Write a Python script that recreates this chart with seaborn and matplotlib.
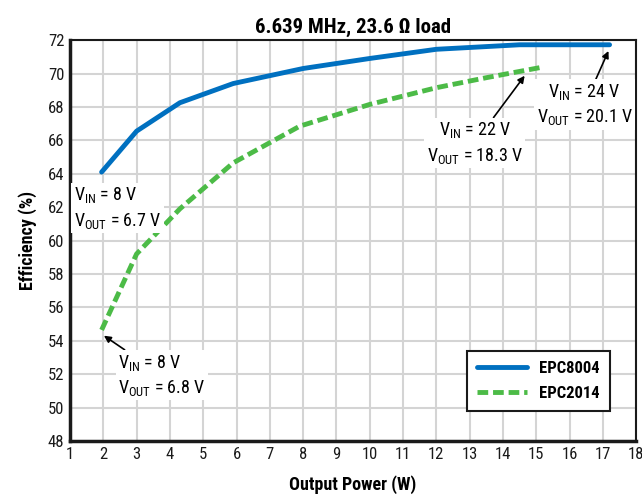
import matplotlib
matplotlib.use("Agg")
import matplotlib.pyplot as plt
import seaborn as sns
import pandas as pd

# Data
epc8004_power = [1.95, 3.0, 4.3, 5.9, 8.0, 10.0, 12.0, 14.5, 17.2]
epc8004_eff = [64.1, 66.55, 68.25, 69.4, 70.3, 70.9, 71.45, 71.72, 71.72]
epc2014_power = [1.95, 3.0, 4.3, 5.9, 7.9, 10.0, 12.0, 13.5, 15.1]
epc2014_eff = [54.65, 59.2, 61.9, 64.65, 66.85, 68.15, 69.15, 69.75, 70.35]
series_names = ["EPC8004", "EPC2014"]
x_ticks = list(range(1, 19))
y_ticks = list(range(48, 73, 2))

df = pd.concat([
    pd.DataFrame({"Power": epc8004_power, "Eff": epc8004_eff, "Device": series_names[0]}),
    pd.DataFrame({"Power": epc2014_power, "Eff": epc2014_eff, "Device": series_names[1]}),
])

sns.set_theme(style="whitegrid")
fam = "Roboto Condensed"
plt.rcParams["font.family"] = [fam, "DejaVu Sans"]
plt.rcParams["mathtext.fontset"] = "custom"
plt.rcParams["mathtext.rm"] = fam
plt.rcParams["mathtext.it"] = fam
plt.rcParams["text.color"] = "black"

fig = plt.figure(figsize=(6.42, 4.95), dpi=100)
ax = fig.add_axes([0.109, 0.109, 0.882, 0.810])

sns.lineplot(data=df, x="Power", y="Eff", hue="Device", style="Device",
             palette={"EPC8004": "#0070c0", "EPC2014": "#4cbb47"},
             dashes={"EPC8004": "", "EPC2014": (2.2, 1.0)},
             linewidth=3.5, ax=ax, sort=False)

ax.set_xlim(1, 18)
ax.set_ylim(48, 72)
ax.set_xticks(x_ticks)
ax.set_yticks(y_ticks)
ax.tick_params(axis="both", labelsize=12, length=0, pad=4, colors="#1a1a1a")
ax.grid(True, color="#d4d4d4", linewidth=1.5)
for s in ax.spines.values():
    s.set_color("#1a1a1a")
    s.set_linewidth(1.5)
ax.spines["left"].set_linewidth(2.5)
ax.spines["bottom"].set_linewidth(2.5)

ax.set_xlabel("Output Power (W)", fontsize=13, fontweight="bold", labelpad=10, color="black")
ax.set_ylabel("Efficiency (%)", fontsize=13, fontweight="bold", labelpad=8, color="black")
ax.set_title("6.639 MHz, 23.6 \u03a9 load", fontsize=15, fontweight="bold", pad=5, color="black")

bbox = dict(boxstyle="square,pad=0.15", fc="white", ec="none")
arrow = dict(arrowstyle="-|>", color="black", lw=1.2, mutation_scale=10, shrinkA=0, shrinkB=2)
afs = 13

ax.text(1.12, 63.3, "V$_{\\mathrm{IN}}$ = 8 V\nV$_{\\mathrm{OUT}}$ = 6.7 V", fontsize=afs,
        va="top", ha="left", linespacing=1.35, bbox=bbox)
ax.annotate("V$_{\\mathrm{IN}}$ = 8 V\nV$_{\\mathrm{OUT}}$ = 6.8 V", xy=(1.95, 54.4), xytext=(2.45, 53.3),
            fontsize=afs, va="top", ha="left", linespacing=1.35, bbox=bbox, arrowprops=arrow)
ax.annotate("V$_{\\mathrm{IN}}$ = 22 V\nV$_{\\mathrm{OUT}}$ = 18.3 V", xy=(14.7, 70.0), xytext=(13.15, 67.2),
            fontsize=afs, va="top", ha="center", linespacing=1.35, bbox=bbox, arrowprops=arrow)
ax.annotate("V$_{\\mathrm{IN}}$ = 24 V\nV$_{\\mathrm{OUT}}$ = 20.1 V", xy=(17.2, 71.5), xytext=(16.45, 69.5),
            fontsize=afs, va="top", ha="center", linespacing=1.35, bbox=bbox, arrowprops=arrow)

leg = ax.legend(loc="lower right", bbox_to_anchor=(0.968, 0.055), fontsize=12, frameon=True,
                fancybox=False, edgecolor="#1a1a1a", handlelength=3.0, borderpad=0.6,
                labelspacing=0.6, handletextpad=0.7, framealpha=1)
leg.get_frame().set_linewidth(1.5)
for t in leg.get_texts():
    t.set_fontweight("bold")

fig.savefig("out.png", dpi=100)
